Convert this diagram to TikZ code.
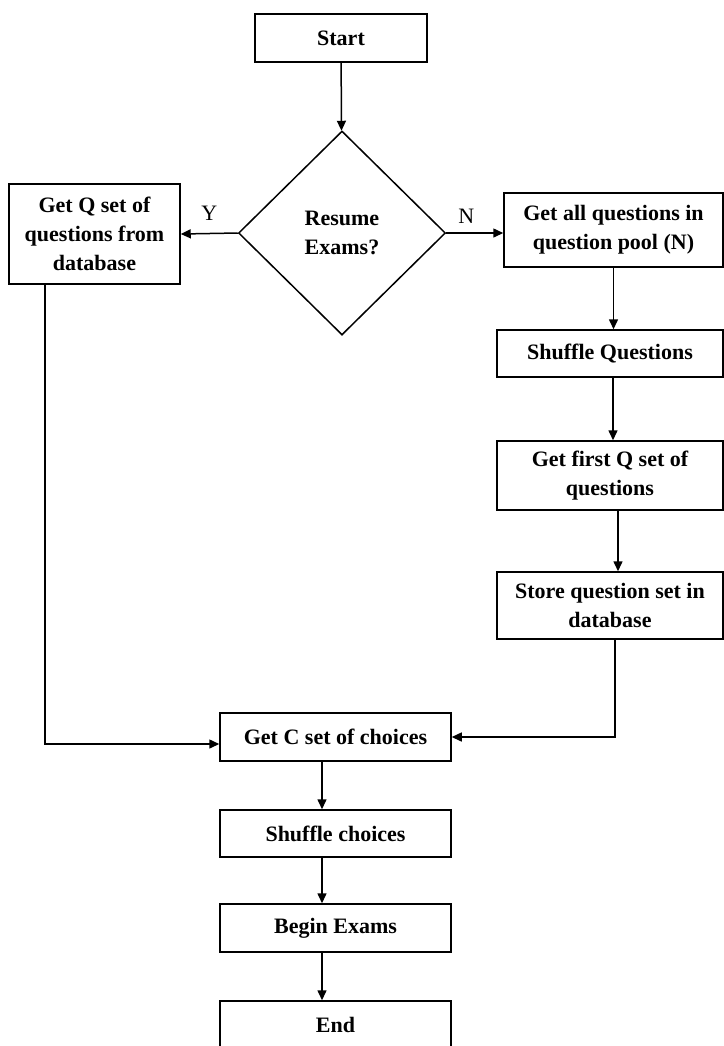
\documentclass[tikz,border=0pt]{standalone}
\usepackage{fontspec}
\setmainfont{Liberation Serif}
\usetikzlibrary{arrows.meta, shapes.geometric, positioning, calc}

\begin{document}
\begin{tikzpicture}[x=0.5pt, y=-0.5pt, line width=0.75pt,
  box/.style={draw, align=center, inner sep=0pt, minimum width=#1,
    font=\bfseries\fontsize{11}{14.5}\selectfont},
  choice/.style={draw, diamond, align=center, inner sep=0pt,
    minimum width=103.5pt, minimum height=102pt,
    font=\bfseries\fontsize{11}{14.5}\selectfont},
  flow/.style={-{Triangle[length=5pt,width=4.5pt]}},
  tag/.style={font=\fontsize{11}{13}\selectfont}]
  \useasboundingbox (0,0) rectangle (724,1046);
  % top and decision
  \node[box=86pt, minimum height=24pt] (start) at (341,38) {Start};
  \node[choice] (resume) at (342,233) {Resume\\Exams?};
  \node[box=85.5pt, minimum height=50pt] (qget) at (94.5,234)
    {Get Q set of\\questions from\\database};
  % right column
  \node[box=109.5pt, minimum height=37pt] (allq) at (613.5,230)
    {Get all questions in\\question pool (N)};
  \node[box=113pt, minimum height=23.5pt] (shufq) at (610,353.5) {Shuffle Questions};
  \node[box=113pt, minimum height=34.5pt] (firstq) at (610,475.5)
    {Get first Q set of\\questions};
  \node[box=113pt, minimum height=33.5pt] (storeq) at (610,605.5)
    {Store question set in\\database};
  % bottom column
  \node[box=115.5pt, minimum height=24pt] (getc) at (335.5,737) {Get C set of choices};
  \node[box=115.5pt, minimum height=23.5pt] (shufc) at (335.5,833.5) {Shuffle choices};
  \node[box=115.5pt, minimum height=24pt] (begin) at (335.5,928) {Begin Exams};
  \node[box=115.5pt, minimum height=24pt] (end) at (335.5,1025) {End};

  \draw[flow] (start) -- (resume);
  \draw[flow] (resume.west) -- (qget.east) node[tag, midway, above=3pt] {Y};
  \draw[flow] (resume.east) -- (resume.east -| allq.west)
    node[tag, pos=0.35, above=1pt] {N};
  \draw[flow] (allq.south) -- (allq.south |- shufq.north);
  \draw[flow] ([xshift=1.5pt]shufq.south) -- ([xshift=1.5pt]firstq.north);
  \draw[flow] ([xshift=4pt]firstq.south) -- ([xshift=4pt]storeq.north);
  \draw[flow] ([xshift=-24.75pt]qget.south) |- ([yshift=-3.5pt]getc.west);
  \draw[flow] ([xshift=2.5pt]storeq.south) |- (getc.east);
  \draw[flow] ([xshift=-6.75pt]getc.south) -- ([xshift=-6.75pt]shufc.north);
  \draw[flow] ([xshift=-6.75pt]shufc.south) -- ([xshift=-6.75pt]begin.north);
  \draw[flow] ([xshift=-6.75pt]begin.south) -- ([xshift=-6.75pt]end.north);
\end{tikzpicture}
\end{document}
